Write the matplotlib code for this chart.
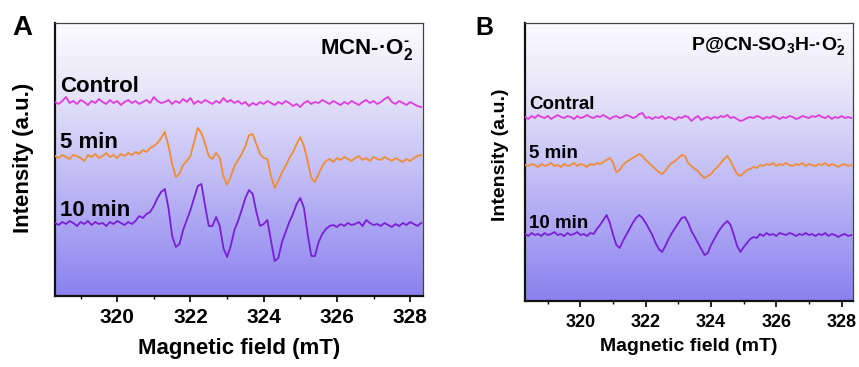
import numpy as np
import matplotlib
matplotlib.use("Agg")
import matplotlib.pyplot as plt
from matplotlib.colors import LinearSegmentedColormap
from matplotlib.ticker import MultipleLocator

plt.rcParams['font.family'] = ['Liberation Sans', 'DejaVu Sans']
plt.rcParams['mathtext.fontset'] = 'custom'
plt.rcParams['mathtext.rm'] = 'Liberation Sans:bold'
plt.rcParams['mathtext.it'] = 'Liberation Sans:bold'
plt.rcParams['mathtext.bf'] = 'Liberation Sans:bold'
plt.rcParams['mathtext.default'] = 'rm'

# ---------------- data ----------------
field = [318.3, 318.4, 318.5, 318.6, 318.7, 318.8, 318.9, 319.0, 319.1, 319.2,
         319.3, 319.4, 319.5, 319.6, 319.7, 319.8, 319.9, 320.0, 320.1, 320.2,
         320.3, 320.4, 320.5, 320.6, 320.7, 320.8, 320.9, 321.0, 321.1, 321.2,
         321.3, 321.4, 321.5, 321.6, 321.7, 321.8, 321.9, 322.0, 322.1, 322.2,
         322.3, 322.4, 322.5, 322.6, 322.7, 322.8, 322.9, 323.0, 323.1, 323.2,
         323.3, 323.4, 323.5, 323.6, 323.7, 323.8, 323.9, 324.0, 324.1, 324.2,
         324.3, 324.4, 324.5, 324.6, 324.7, 324.8, 324.9, 325.0, 325.1, 325.2,
         325.3, 325.4, 325.5, 325.6, 325.7, 325.8, 325.9, 326.0, 326.1, 326.2,
         326.3, 326.4, 326.5, 326.6, 326.7, 326.8, 326.9, 327.0, 327.1, 327.2,
         327.3, 327.4, 327.5, 327.6, 327.7, 327.8, 327.9, 328.0, 328.1, 328.2,
         328.3]

# Panel A: MCN
mcn_control = [194, 192, 195, 199, 193, 195, 192, 196, 194, 191,
               195, 193, 197, 194, 192, 196, 193, 195, 191, 194,
               196, 193, 195, 192, 194, 196, 193, 199, 195, 193,
               194, 196, 192, 195, 193, 197, 194, 198, 192, 195,
               193, 196, 194, 192, 195, 193, 198, 194, 196, 193,
               195, 192, 194, 190, 193, 191, 194, 192, 195, 193,
               191, 194, 192, 195, 193, 190, 192, 189, 193, 195,
               192, 194, 193, 196, 194, 192, 195, 193, 191, 194,
               192, 195, 193, 191, 194, 196, 193, 195, 192, 194,
               197, 199, 194, 192, 195, 193, 191, 194, 192, 190,
               189]
mcn_5min = [140, 138, 141, 139, 137, 141, 140, 138, 135, 141,
            139, 142, 138, 140, 143, 139, 141, 138, 142, 140,
            143, 141, 144, 142, 146, 144, 148, 150, 153, 158,
            164, 150, 132, 119, 122, 131, 135, 140, 154, 168,
            163, 152, 140, 137, 143, 138, 120, 111, 119, 130,
            136, 142, 150, 161, 162, 152, 142, 138, 137, 120,
            108, 115, 124, 130, 138, 144, 152, 159, 150, 135,
            118, 114, 122, 130, 135, 137, 134, 138, 136, 139,
            137, 135, 138, 140, 136, 138, 135, 139, 137, 136,
            139, 137, 135, 138, 136, 134, 137, 135, 138, 140,
            141]
mcn_10min = [73, 71, 74, 72, 75, 73, 70, 74, 72, 75,
             71, 74, 72, 73, 70, 74, 72, 75, 73, 71,
             74, 72, 75, 80, 78, 82, 84, 90, 98, 104,
             107, 88, 60, 49, 52, 66, 76, 86, 98, 110,
             112, 90, 70, 70, 79, 70, 48, 39, 50, 66,
             75, 86, 98, 106, 102, 84, 70, 72, 76, 55,
             35, 38, 54, 64, 74, 82, 92, 98, 88, 62,
             40, 40, 54, 62, 67, 70, 71, 69, 72, 70,
             73, 71, 72, 74, 70, 76, 73, 71, 72, 70,
             73, 71, 69, 72, 70, 73, 71, 74, 72, 70,
             73]

# Panel B: P@CN-SO3H
pcn_control = [184, 182, 185, 183, 186, 184, 183, 185, 182, 184,
               186, 184, 183, 185, 184, 182, 185, 183, 184, 186,
               184, 183, 185, 184, 186, 184, 182, 184, 185, 183,
               184, 186, 185, 183, 184, 187, 188, 183, 184, 182,
               184, 183, 185, 182, 184, 183, 181, 184, 183, 185,
               184, 180, 183, 185, 181, 183, 184, 182, 184, 183,
               185, 184, 186, 183, 184, 182, 180, 181, 183, 184,
               183, 185, 184, 182, 184, 183, 185, 184, 182, 184,
               183, 185, 184, 182, 183, 185, 184, 183, 185, 184,
               186, 184, 183, 185, 182, 184, 183, 185, 183, 184,
               183]
pcn_5min = [136, 135, 137, 136, 134, 137, 135, 136, 138, 135,
            136, 134, 137, 135, 136, 138, 135, 137, 136, 134,
            137, 136, 138, 137, 139, 141, 143, 138, 129, 131,
            136, 139, 141, 143, 145, 147, 145, 141, 138, 135,
            132, 129, 127, 130, 135, 138, 140, 143, 146, 145,
            138, 135, 132, 130, 126, 123, 125, 127, 131, 134,
            138, 142, 145, 140, 133, 127, 125, 128, 131, 132,
            134, 133, 136, 135, 137, 136, 138, 135, 137, 136,
            138, 136, 135, 137, 136, 138, 135, 137, 136, 135,
            137, 136, 138, 135, 137, 136, 134, 136, 137, 135,
            136]
pcn_10min = [67, 65, 68, 66, 67, 65, 68, 66, 67, 69,
             66, 67, 65, 68, 66, 67, 69, 66, 67, 65,
             68, 67, 72, 76, 81, 86, 78, 66, 56, 53,
             60, 66, 72, 78, 83, 86, 83, 78, 72, 66,
             58, 52, 49, 55, 62, 68, 73, 78, 83, 84,
             78, 70, 64, 58, 52, 46, 48, 56, 62, 68,
             73, 77, 80, 76, 66, 55, 49, 54, 58, 62,
             64, 63, 67, 65, 68, 66, 67, 65, 68, 67,
             66, 68, 67, 65, 67, 66, 68, 66, 67, 65,
             67, 66, 68, 65, 67, 66, 64, 66, 67, 65,
             66]

xticks = [320, 322, 324, 326, 328]
labels_A = ['Control', '5 min', '10 min']
labels_B = ['Contral', '5 min', '10 min']
title_A = 'MCN-\u00b7O$_2^{\\text{-}}$'
title_B = 'P@CN-SO$_3$H-\u00b7O$_2^{\\text{-}}$'

# ---------------- styling ----------------
c_ctrl = '#dd3bdd'
c_5 = '#f08c35'
c_10 = '#7a1fd6'
bg_cmap = LinearSegmentedColormap.from_list(
    'bg', [(0.0, '#8a82ef'), (0.45, '#c3bef6'), (0.8, '#eceaf9'), (1.0, '#fbfbfe')])

fig = plt.figure(figsize=(8.59, 3.67), dpi=100)
axA = fig.add_axes([0.064, 0.1935, 0.4284, 0.7438])
axB = fig.add_axes([0.6112, 0.1798, 0.3818, 0.7575])

grad = np.linspace(0, 1, 256).reshape(-1, 1)


def style(ax, ylim, fs_tick, pad, xl_y, yl_x, yl_y, fs_lab):
    ax.imshow(grad, cmap=bg_cmap, origin='lower', aspect='auto',
              extent=[0, 1, 0, 1], transform=ax.transAxes, zorder=0)
    ax.set_xlim(318.3, 328.35)
    ax.set_ylim(*ylim)
    ax.set_xticks(xticks)
    ax.xaxis.set_minor_locator(MultipleLocator(1))
    ax.set_yticks([])
    ax.tick_params(axis='x', which='major', direction='out', length=4, width=1.2,
                   labelsize=fs_tick, pad=pad)
    ax.tick_params(axis='x', which='minor', direction='out', length=2.5, width=1)
    for lab in ax.get_xticklabels():
        lab.set_fontweight('bold')
    for s in ['left', 'bottom']:
        ax.spines[s].set_linewidth(1.6)
        ax.spines[s].set_color('#111111')
    for s in ['top', 'right']:
        ax.spines[s].set_linewidth(0.9)
        ax.spines[s].set_color('#444444')
    ax.set_xlabel('Magnetic field (mT)', fontsize=fs_lab, fontweight='bold')
    ax.set_ylabel('Intensity (a.u.)', fontsize=fs_lab, fontweight='bold')
    ax.xaxis.set_label_coords(0.5, xl_y)
    ax.yaxis.set_label_coords(yl_x, yl_y)


style(axA, (0, 273), 15, 5, -0.153, -0.057, 0.505, 16)
style(axB, (0, 278), 13, 5.5, -0.133, -0.049, 0.525, 14)

for ax, ys in ((axA, (mcn_control, mcn_5min, mcn_10min)),
               (axB, (pcn_control, pcn_5min, pcn_10min))):
    for y, c in zip(ys, (c_ctrl, c_5, c_10)):
        ax.plot(field, y, color=c, lw=1.3, zorder=3, solid_joinstyle='round')

# curve labels
for lab, yy in zip(labels_A, (0.747, 0.542, 0.293)):
    axA.text(0.015, yy, lab, transform=axA.transAxes, fontsize=16,
             fontweight='bold', va='baseline', ha='left', zorder=4)
for lab, yy in zip(labels_B, (0.691, 0.514, 0.263)):
    axB.text(0.012, yy, lab, transform=axB.transAxes, fontsize=13.5,
             fontweight='bold', va='baseline', ha='left', zorder=4)

axA.text(0.973, 0.886, title_A, transform=axA.transAxes, fontsize=16,
         fontweight='bold', va='baseline', ha='right', zorder=4)
axB.text(0.976, 0.903, title_B, transform=axB.transAxes, fontsize=14,
         fontweight='bold', va='baseline', ha='right', zorder=4)

fig.text(0.014, 0.905, 'A', fontsize=20, fontweight='bold', va='baseline')
fig.text(0.553, 0.905, 'B', fontsize=18, fontweight='bold', va='baseline')

fig.savefig('out.png', dpi=100)
